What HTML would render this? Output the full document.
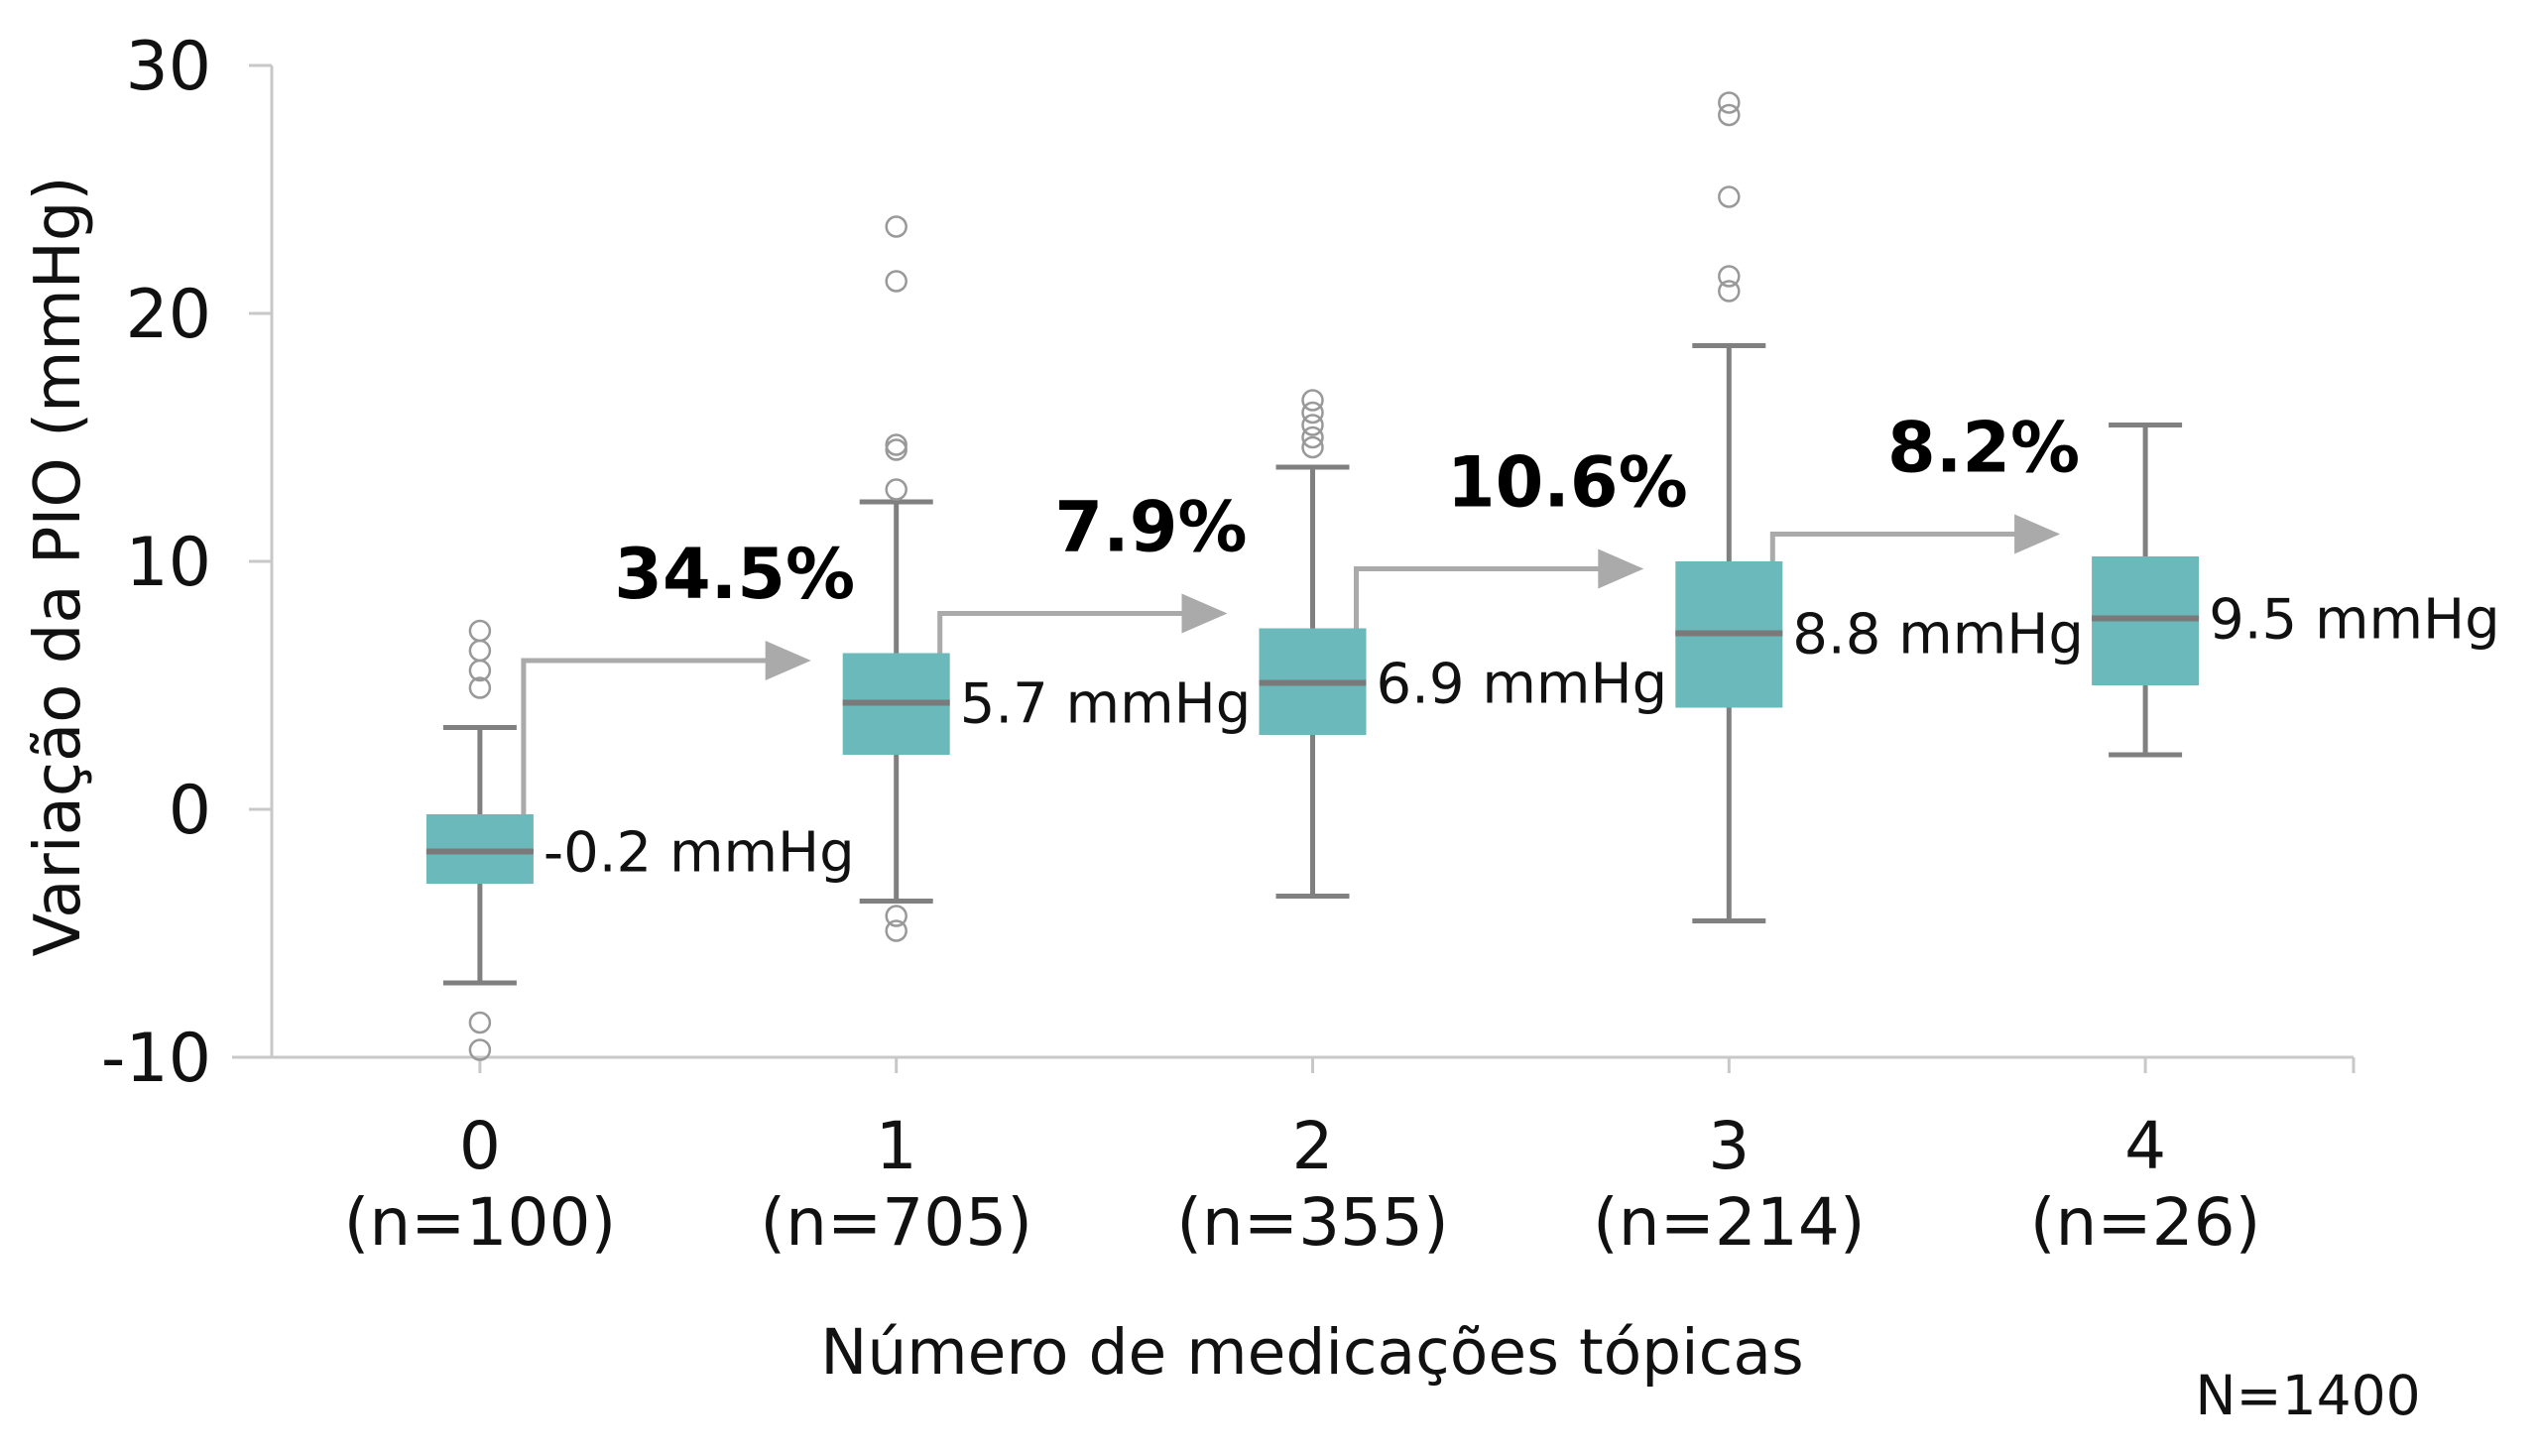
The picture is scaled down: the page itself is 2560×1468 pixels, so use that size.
<!DOCTYPE html>
<html><head><meta charset="utf-8"><style>
html,body{margin:0;padding:0;background:#fff;}
svg{display:block;font-family:"DejaVu Sans","Liberation Sans",sans-serif;}
</style></head><body>
<svg id="chart" width="2560" height="1468" viewBox="0 0 2560 1468" xmlns="http://www.w3.org/2000/svg"></svg>
<script>
const categories = ["0","1","2","3","4"];
const nLabels = ["(n=100)","(n=705)","(n=355)","(n=214)","(n=26)"];
const q1 = [-3.0, 2.2, 3.0, 4.1, 5.0];
const q3 = [-0.2, 6.3, 7.3, 10.0, 10.2];
const medians = [-1.7, 4.3, 5.1, 7.1, 7.7];
const whiskerLow = [-7.0, -3.7, -3.5, -4.5, 2.2];
const whiskerHigh = [3.3, 12.4, 13.8, 18.7, 15.5];
const outliers = [[7.2,6.4,5.6,4.9,-8.6,-9.7],[23.5,21.3,14.7,14.5,12.9,-4.3,-4.9],[16.5,16.0,15.5,15.0,14.6],[28.5,28.0,24.7,21.5,20.9],[]];
const meanLabels = ["-0.2 mmHg","5.7 mmHg","6.9 mmHg","8.8 mmHg","9.5 mmHg"];
const arrowValues = [6.0, 7.9, 9.7, 11.1];
const pctLabels = ["34.5%","7.9%","10.6%","8.2%"];
const yTicks = [-10, 0, 10, 20, 30];

const svg = document.getElementById('chart');
const NS = "http://www.w3.org/2000/svg";
const L = 274, R = 2373, T = 66, B = 1066, yMin = -10, yMax = 30;
const band = (R - L) / categories.length;
const x = i => L + (i + 0.5) * band;
const y = v => B - (v - yMin) / (yMax - yMin) * (B - T);
function mk(tag, attrs, parent){const e=document.createElementNS(NS,tag);for(const k in attrs)e.setAttribute(k,attrs[k]);(parent||svg).appendChild(e);return e;}
function txt(s, attrs){const e=mk('text',attrs);e.textContent=s;return e;}

let a = mk('line',{x1:L,y1:T,x2:L,y2:B,stroke:'#c8c8c8','stroke-width':3});


a = mk('line',{x1:L-40,y1:B,x2:R,y2:B,stroke:'#c8c8c8','stroke-width':3});


yTicks.forEach(v=>{
  const t = mk('line',{x1:L-23,y1:y(v),x2:L,y2:y(v),stroke:'#c8c8c8','stroke-width':3});
  
  
  const l = txt(String(v),{x:213,y:y(v)+24,'text-anchor':'end','font-size':68,fill:'#111'});
  
  
});
for(let i=0;i<=categories.length;i++){
  const xx = i<categories.length ? x(i) : R;
  const t = mk('line',{x1:xx,y1:B,x2:xx,y2:B+16,stroke:'#c8c8c8','stroke-width':3});
  
  
}
categories.forEach((c,i)=>{
  const l = txt(c,{x:x(i),y:1178,'text-anchor':'middle','font-size':66,fill:'#111'});
  
  
  const n = txt(nLabels[i],{x:x(i),y:1255,'text-anchor':'middle','font-size':66,fill:'#111'});
  
  
});

const bw = 108, cap = 37;
categories.forEach((c,i)=>{
  const cx = x(i);
  const g = mk('g',{});
  
  
  mk('line',{x1:cx,y1:y(whiskerHigh[i]),x2:cx,y2:y(whiskerLow[i]),stroke:'#808080','stroke-width':5},g);
  mk('line',{x1:cx-cap,y1:y(whiskerHigh[i]),x2:cx+cap,y2:y(whiskerHigh[i]),stroke:'#808080','stroke-width':5},g);
  mk('line',{x1:cx-cap,y1:y(whiskerLow[i]),x2:cx+cap,y2:y(whiskerLow[i]),stroke:'#808080','stroke-width':5},g);
  mk('rect',{x:cx-bw/2,y:y(q3[i]),width:bw,height:y(q1[i])-y(q3[i]),fill:'#6bb9ba'},g);
  mk('line',{x1:cx-bw/2,y1:y(medians[i]),x2:cx+bw/2,y2:y(medians[i]),stroke:'#7a7a7a','stroke-width':6},g);
  outliers[i].forEach(v=>{
    const o = mk('circle',{cx:cx,cy:y(v),r:10,fill:'none',stroke:'#999','stroke-width':2.5});
    
    
  });
  const ml = txt(meanLabels[i],{x:cx+bw/2+10,y:y(medians[i])+20,'font-size':56,fill:'#111'});
  
  
});

arrowValues.forEach((v,i)=>{
  const sx = x(i)+bw/2-10, ay = y(v), ex = x(i+1)-bw/2-32;
  const g = mk('g',{});
  
  
  mk('polyline',{points:`${sx},${y(q3[i])} ${sx},${ay} ${ex-44},${ay}`,fill:'none',stroke:'#aaa','stroke-width':5},g);
  mk('polygon',{points:`${ex-46},${ay-20} ${ex},${ay} ${ex-46},${ay+20}`,fill:'#aaa'},g);
  const p = txt(pctLabels[i],{x:ex-77,y:ay-63,'text-anchor':'middle','font-size':70,'font-weight':'bold',fill:'#000'});
  
  
});

let t = txt('Variação da PIO (mmHg)',{x:0,y:0,'text-anchor':'middle','font-size':64,fill:'#111',transform:'translate(80,571) rotate(-90)'});


t = txt('Número de medicações tópicas',{x:1323,y:1385,'text-anchor':'middle','font-size':63,fill:'#111'});


t = txt('N=1400',{x:2327,y:1426,'text-anchor':'middle','font-size':55,fill:'#111'});


</script>
</body></html>
